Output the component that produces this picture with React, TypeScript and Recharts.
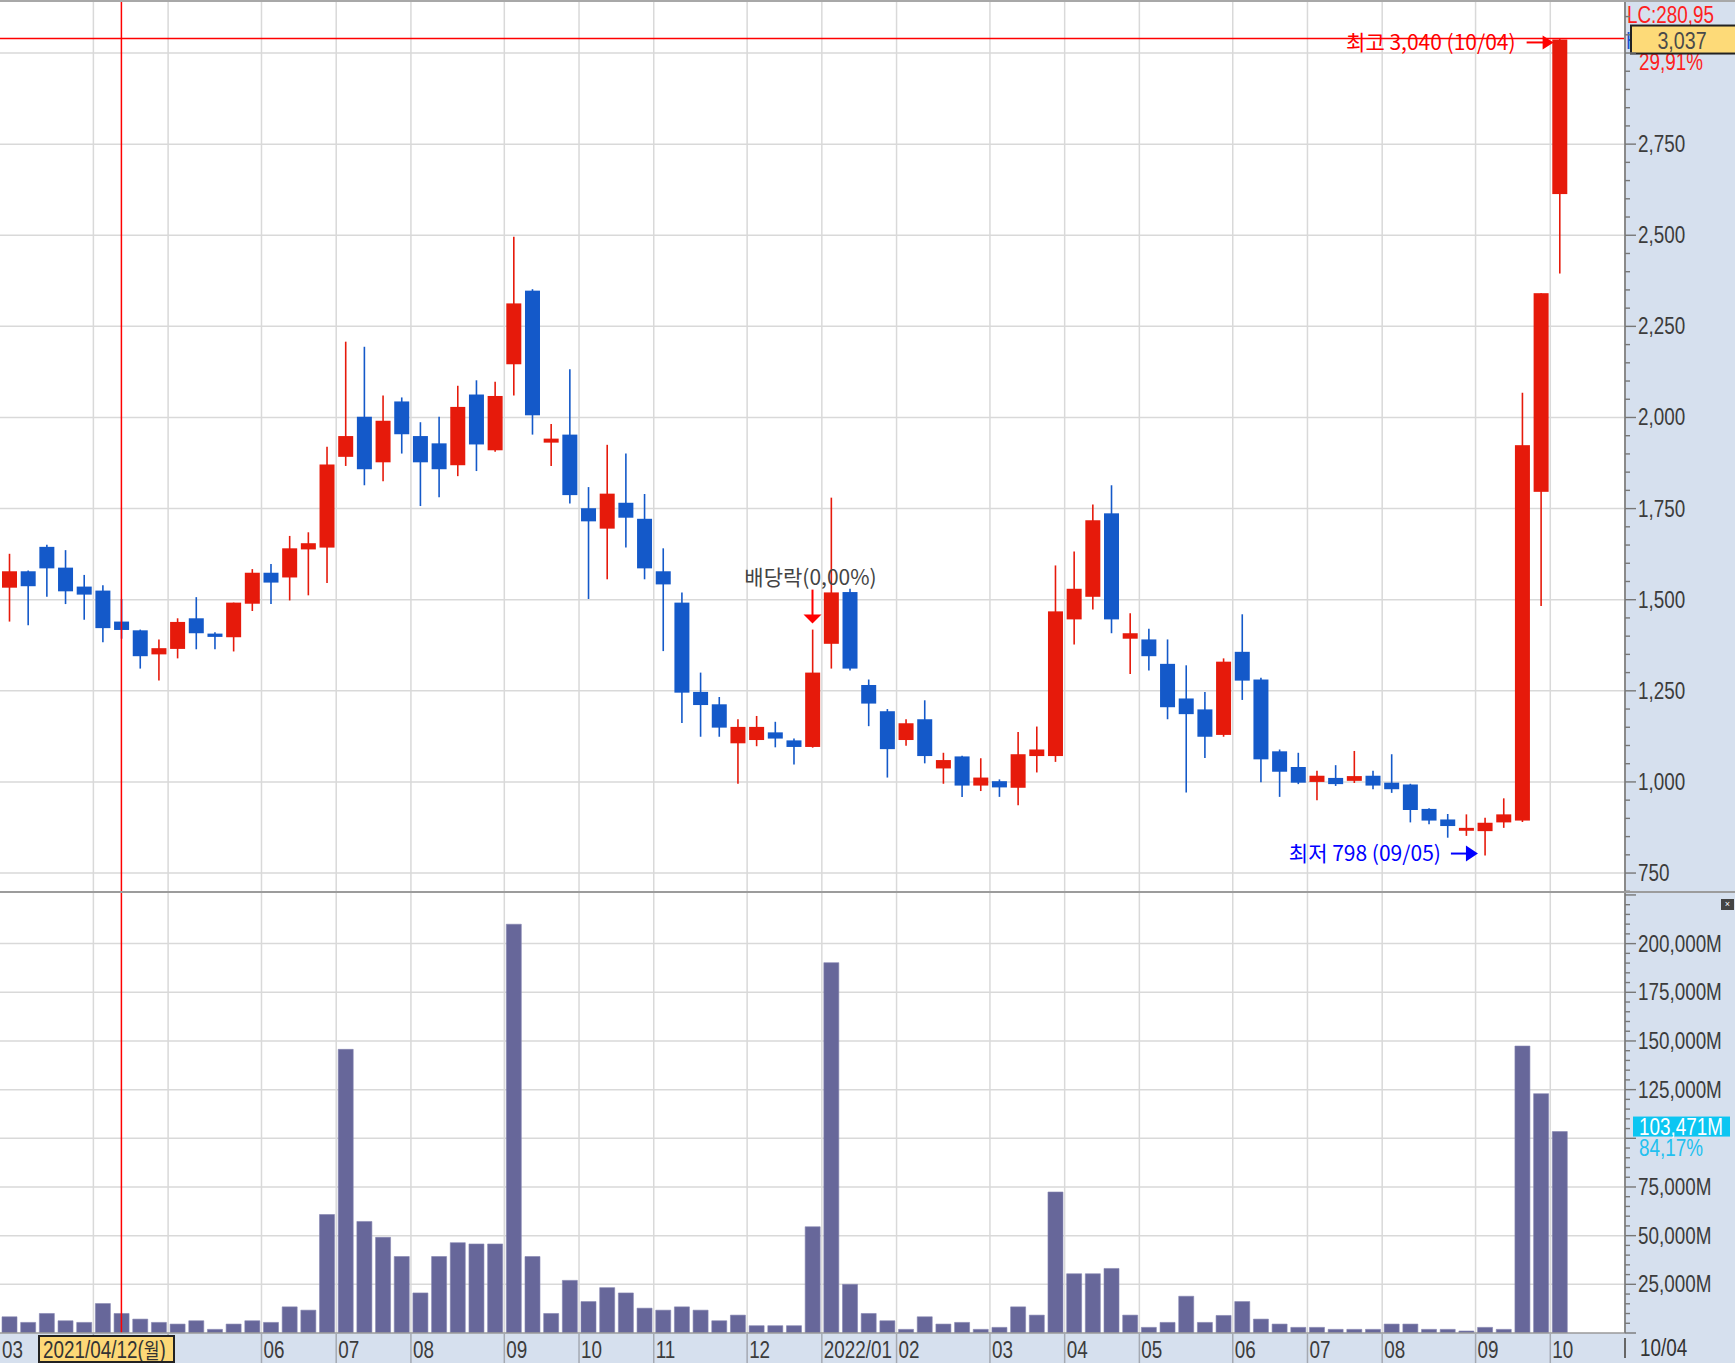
import React from 'react';
import { ComposedChart, Bar, XAxis, YAxis, CartesianGrid, ReferenceLine, ReferenceDot } from 'recharts';

// weekly candles, 2021/03 ~ 2022/10
const weeks = [
  '2021/03/01', '2021/03/08', '2021/03/15', '2021/03/22', '2021/03/29', '2021/04/05', '2021/04/12', '2021/04/19', '2021/04/26',
  '2021/05/03', '2021/05/10', '2021/05/17', '2021/05/24', '2021/05/31', '2021/06/07', '2021/06/14', '2021/06/21', '2021/06/28',
  '2021/07/05', '2021/07/12', '2021/07/19', '2021/07/26', '2021/08/02', '2021/08/09', '2021/08/16', '2021/08/23', '2021/08/30',
  '2021/09/06', '2021/09/13', '2021/09/20', '2021/09/27', '2021/10/04', '2021/10/11', '2021/10/18', '2021/10/25', '2021/11/01',
  '2021/11/08', '2021/11/15', '2021/11/22', '2021/11/29', '2021/12/06', '2021/12/13', '2021/12/20', '2021/12/27', '2022/01/03',
  '2022/01/10', '2022/01/17', '2022/01/24', '2022/01/31', '2022/02/07', '2022/02/14', '2022/02/21', '2022/02/28', '2022/03/07',
  '2022/03/14', '2022/03/21', '2022/03/28', '2022/04/04', '2022/04/11', '2022/04/18', '2022/04/25', '2022/05/02', '2022/05/09',
  '2022/05/16', '2022/05/23', '2022/05/30', '2022/06/06', '2022/06/13', '2022/06/20', '2022/06/27', '2022/07/04', '2022/07/11',
  '2022/07/18', '2022/07/25', '2022/08/01', '2022/08/08', '2022/08/15', '2022/08/22', '2022/08/29', '2022/09/05', '2022/09/12',
  '2022/09/19', '2022/09/26', '2022/10/03',
];

const opens = [
  1533, 1578, 1645, 1588, 1536, 1525, 1440, 1416, 1350, 1365, 1449, 1407, 1397, 1489, 1574, 1561, 1638, 1643, 1892, 2002, 1877,
  2044, 1949, 1929, 1869, 2063, 1910, 2146, 2348, 1931, 1953, 1751, 1695, 1766, 1722, 1578, 1492, 1247, 1213, 1106, 1115, 1136,
  1114, 1096, 1379, 1521, 1266, 1194, 1115, 1172, 1037, 1070, 990, 1002, 984, 1071, 1071, 1446, 1508, 1737, 1393, 1391, 1324,
  1229, 1199, 1129, 1357, 1281, 1084, 1041, 1000, 1011, 1003, 1017, 998, 993, 926, 897, 866, 865, 889, 894, 1796, 2613,
];
const highs = [
  1626, 1580, 1651, 1636, 1568, 1540, 1502, 1418, 1391, 1449, 1507, 1411, 1492, 1584, 1598, 1675, 1685, 1920, 2208, 2194, 2060,
  2055, 1987, 2002, 2087, 2102, 2098, 2496, 2352, 1982, 2132, 1809, 1925, 1901, 1790, 1641, 1520, 1300, 1233, 1172, 1181, 1165,
  1119, 1418, 1780, 1530, 1281, 1200, 1172, 1224, 1080, 1072, 1065, 1007, 1137, 1152, 1594, 1632, 1761, 1814, 1463, 1420, 1391,
  1320, 1247, 1339, 1460, 1286, 1089, 1080, 1031, 1046, 1085, 1031, 1076, 995, 928, 912, 911, 902, 955, 2068, 2341, 3040,
];
const lows = [
  1440, 1430, 1508, 1488, 1445, 1383, 1393, 1311, 1278, 1339, 1364, 1364, 1358, 1469, 1488, 1498, 1512, 1546, 1867, 1814, 1825,
  1901, 1757, 1781, 1839, 1853, 1906, 2060, 1953, 1867, 1764, 1502, 1556, 1643, 1556, 1359, 1162, 1124, 1124, 995, 1098, 1095,
  1048, 1094, 1311, 1306, 1153, 1012, 1099, 1051, 995, 959, 975, 959, 936, 1026, 1055, 1377, 1473, 1408, 1296, 1306, 1172,
  971, 1066, 1124, 1225, 999, 959, 994, 950, 989, 997, 980, 970, 889, 884, 847, 852, 798, 874, 890, 1483, 2395,
];
const closes = [
  1578, 1537, 1586, 1523, 1514, 1422, 1417, 1345, 1367, 1439, 1408, 1398, 1492, 1574, 1547, 1641, 1655, 1871, 1949, 1858, 1991,
  1954, 1877, 1858, 2029, 1926, 2059, 2313, 2006, 1942, 1787, 1715, 1791, 1725, 1586, 1542, 1245, 1211, 1149, 1151, 1151, 1119,
  1096, 1300, 1520, 1311, 1215, 1090, 1161, 1071, 1060, 990, 1012, 985, 1076, 1089, 1468, 1530, 1718, 1446, 1408, 1345, 1205,
  1186, 1124, 1330, 1278, 1062, 1028, 998, 1017, 994, 1016, 990, 980, 923, 894, 879, 874, 888, 911, 1924, 2341, 3037,
];
// 거래대금 (백만원)
const volumes = [
  8330, 5440, 10030, 6290, 5440, 15130, 10030, 7140, 5440, 4590, 6290, 1870, 4590, 6290, 5440, 13430, 11730, 60860, 145690,
  57290, 49130, 39270, 20570, 39270, 46410, 45730, 45730, 209950, 39270, 10030, 27030, 16150, 23290, 20570, 12750, 11730, 13430,
  11730, 6290, 9180, 3740, 3740, 3740, 54570, 190230, 24990, 10030, 6290, 1870, 8330, 4590, 5440, 1870, 2890, 13430, 9180, 72420,
  30430, 30430, 33150, 9180, 2890, 5440, 18870, 5440, 9010, 16150, 7140, 4590, 2890, 2890, 1870, 1870, 1870, 4590, 4590, 1870,
  1870, 1020, 2890, 1870, 147390, 122932, 103471,
];

// first week of each month on the time axis
const monthStarts = [0, 5, 9, 14, 18, 22, 27, 31, 35, 40, 44, 48, 53, 57, 61, 66, 70, 74, 79, 83];
const monthLabels = ['03', '04', '05', '06', '07', '08', '09', '10', '11', '12', '2022/01', '02', '03', '04', '05', '06', '07', '08', '09', '10'];
// labels hidden under the crosshair date tag
const coveredMonths = [5, 9];

const priceGrid = [750, 1000, 1250, 1500, 1750, 2000, 2250, 2500, 2750, 3000];
const priceLabels = [750, 1000, 1250, 1500, 1750, 2000, 2250, 2500, 2750];
const priceTicks = Array.from({ length: 49 }, (_, k) => 700 + k * 50);
const volumeGrid = [25000, 50000, 75000, 100000, 125000, 150000, 175000, 200000];
const volumeLabels = [25000, 50000, 75000, 125000, 150000, 175000, 200000];
const volumeTicks = Array.from({ length: 46 }, (_, k) => k * 5000);

const CROSS_IDX = 6;
const HIGH_IDX = 83;
const LOW_IDX = 79;
const EX_DIV_IDX = 43;

const priceData = weeks.map((date, i) => ({ idx: i, date, open: opens[i], high: highs[i], low: lows[i], close: closes[i] }));
const volumeData = weeks.map((date, i) => ({ idx: i, date, volume: volumes[i] }));

const RED = '#e61a0b';
const BLUE = '#1459c9';
const VOL = '#67679a';
const GRID = '#d9d9d9';
const PANEL = '#d6e0ee';
const AXIS_FONT = '"Liberation Sans", Arial, sans-serif';
const KR_FONT = '"Noto Sans CJK KR", "Noto Sans", sans-serif';
const X_DOMAIN: [number, number] = [-0.5, 86.5];

// narrow glyphs, like the terminal's bitmap font
const Narrow = ({ x, y, size = 23, fill = '#3c3c3c', anchor = 'start', children }: any) => (
  <text
    transform={`translate(${x},${y}) scale(0.82,1)`}
    fontSize={size}
    fill={fill}
    fontFamily={AXIS_FONT}
    textAnchor={anchor}
  >
    {children}
  </text>
);

const Candle = (props: any) => {
  const { x, y, width, height, payload } = props;
  if (!payload || payload.high == null) return null;
  const { open, close, high, low } = payload;
  const color = close >= open ? RED : BLUE;
  const toY = (v: number) => y + ((high - v) / (high - low)) * height;
  const cx = x + width / 2;
  const top = toY(Math.max(open, close));
  const bot = toY(Math.min(open, close));
  return (
    <g>
      <line x1={cx} x2={cx} y1={y} y2={y + height} stroke={color} strokeWidth={1.6} />
      <rect x={x} y={top} width={width} height={Math.max(bot - top, 2)} fill={color} />
    </g>
  );
};

const PriceTick = (props: any) => {
  const { x, y, payload } = props;
  const v = payload.value;
  const major = v % 250 === 0;
  return (
    <g>
      <line x1={x} x2={x + (major ? 11 : 5)} y1={y} y2={y} stroke="#777" strokeWidth={1.4} />
      {priceLabels.includes(v) && <Narrow x={x + 13} y={y + 8}>{v.toLocaleString('en-US')}</Narrow>}
    </g>
  );
};

const VolumeTick = (props: any) => {
  const { x, y, payload } = props;
  const v = payload.value;
  const major = v % 25000 === 0;
  return (
    <g>
      <line x1={x} x2={x + (major ? 11 : 5)} y1={y} y2={y} stroke="#777" strokeWidth={1.4} />
      {volumeLabels.includes(v) && <Narrow x={x + 13} y={y + 8}>{v.toLocaleString('en-US') + 'M'}</Narrow>}
    </g>
  );
};

const MonthTick = (props: any) => {
  const { x, y, payload } = props;
  const start = Math.round(payload.value + 0.5);
  const k = monthStarts.indexOf(start);
  return (
    <g>
      {k > 0 && <line x1={x} x2={x} y1={y} y2={y + 30} stroke="#a4a9b2" strokeWidth={1.5} />}
      {!coveredMonths.includes(start) && <Narrow x={x + 2} y={y + 25}>{monthLabels[k]}</Narrow>}
    </g>
  );
};

const HighNote = (props: any) => {
  const vb = props.viewBox;
  const cx = vb.x + vb.width / 2;
  const cy = vb.y + vb.height / 2;
  return (
    <g>
      <text x={cx - 44} y={cy + 12} textAnchor="end" fontSize={21} fill="#ff0000" fontFamily={KR_FONT}>
        최고 3,040 (10/04)
      </text>
      <line x1={cx - 33} x2={cx - 16} y1={cy + 4} y2={cy + 4} stroke="#ff0000" strokeWidth={2} />
      <polygon points={`${cx - 17},${cy - 3} ${cx - 6},${cy + 4} ${cx - 17},${cy + 11}`} fill="#ff0000" />
    </g>
  );
};

const LowNote = (props: any) => {
  const vb = props.viewBox;
  const cx = vb.x + vb.width / 2;
  const cy = vb.y + vb.height / 2;
  return (
    <g>
      <text x={cx - 44} y={cy + 5} textAnchor="end" fontSize={21} fill="#0000ff" fontFamily={KR_FONT}>
        최저 798 (09/05)
      </text>
      <line x1={cx - 34} x2={cx - 18} y1={cy - 2} y2={cy - 2} stroke="#0000ff" strokeWidth={2} />
      <polygon points={`${cx - 19},${cy - 10} ${cx - 7},${cy - 2} ${cx - 19},${cy + 6}`} fill="#0000ff" />
    </g>
  );
};

const ExDivNote = (props: any) => {
  const vb = props.viewBox;
  const cx = vb.x + vb.width / 2;
  const cy = vb.y + vb.height / 2;
  return (
    <g>
      <text x={cx - 2} y={cy - 45} textAnchor="middle" fontSize={21} fill="#444" fontFamily={KR_FONT}>
        배당락(0,00%)
      </text>
      <line x1={cx} x2={cx} y1={cy - 40} y2={cy - 14} stroke="#ff0000" strokeWidth={2} />
      <polygon points={`${cx - 9},${cy - 15} ${cx + 9},${cy - 15} ${cx},${cy - 6}`} fill="#ff0000" />
    </g>
  );
};

const LastPriceTag = (props: any) => {
  const vb = props.viewBox;
  const ax = vb.x + vb.width;
  const vy = vb.y;
  return (
    <g>
      <Narrow x={ax + 2} y={vy - 17} size={23} fill="#ff2020">LC:280,95</Narrow>
      <Narrow x={ax + 14} y={vy + 30} size={23} fill="#ff2020">29,91%</Narrow>
      <Narrow x={ax + 1} y={vy + 9} size={23} fill="#1a4fd0">H</Narrow>
      <rect x={ax + 6} y={vy - 14} width={110} height={28} fill="#fdda78" stroke="#222" strokeWidth={2} />
      <Narrow x={ax + 57} y={vy + 9} size={24} fill="#4a4a4a" anchor="middle">3,037</Narrow>
    </g>
  );
};

const LastVolumeTag = (props: any) => {
  const vb = props.viewBox;
  const ax = vb.x + vb.width;
  const vy = vb.y;
  return (
    <g>
      <rect x={ax + 8} y={vy - 15} width={97} height={20} fill="#0cc6f2" />
      <Narrow x={ax + 56} y={vy + 3} size={23} fill="#ffffff" anchor="middle">103,471M</Narrow>
      <Narrow x={ax + 14} y={vy + 24} size={23} fill="#22c0f0">84,17%</Narrow>
    </g>
  );
};

const narrowSpan: React.CSSProperties = {
  display: 'inline-block',
  transform: 'scaleX(0.82)',
  transformOrigin: 'left center',
  whiteSpace: 'nowrap',
};

export default function App() {
  return (
    <div style={{ position: 'absolute', left: 0, top: 0, width: 1735, height: 1363, background: '#fff', overflow: 'hidden' }}>
      <div style={{ position: 'absolute', left: 1625, top: 0, width: 110, height: 1363, background: PANEL }} />
      <div style={{ position: 'absolute', left: 0, top: 1333, width: 1625, height: 30, background: PANEL }} />

      <div style={{ position: 'absolute', left: 0, top: 0 }}>
        <ComposedChart width={1735} height={893} data={priceData} margin={{ top: 2, right: 0, bottom: 1, left: 0 }}>
          <CartesianGrid
            stroke={GRID}
            strokeWidth={1.5}
            horizontalValues={priceGrid}
            verticalValues={monthStarts.slice(1).map((i) => i - 0.5)}
          />
          <XAxis dataKey="idx" type="number" domain={X_DOMAIN} hide allowDataOverflow />
          <YAxis
            orientation="right"
            width={110}
            domain={[698, 3140]}
            ticks={priceTicks}
            interval={0}
            tickSize={0}
            tickMargin={0}
            tick={<PriceTick />}
            axisLine={{ stroke: '#8a8a8a', strokeWidth: 2 }}
            tickLine={false}
            allowDataOverflow
          />
          <Bar dataKey={(d: any) => [d.low, d.high]} barSize={15} shape={<Candle />} isAnimationActive={false} />
          <ReferenceLine y={3040} stroke="#ff0000" strokeWidth={1.5} />
          <ReferenceLine x={CROSS_IDX} stroke="#ff0000" strokeWidth={1.5} />
          <ReferenceLine y={closes[HIGH_IDX]} stroke="none" label={<LastPriceTag />} />
          <ReferenceDot x={HIGH_IDX} y={highs[HIGH_IDX]} r={1} fill="none" stroke="none" label={<HighNote />} />
          <ReferenceDot x={LOW_IDX} y={lows[LOW_IDX]} r={1} fill="none" stroke="none" label={<LowNote />} />
          <ReferenceDot x={EX_DIV_IDX} y={highs[EX_DIV_IDX]} r={1} fill="none" stroke="none" label={<ExDivNote />} />
        </ComposedChart>
      </div>

      <div style={{ position: 'absolute', left: 0, top: 893 }}>
        <ComposedChart width={1735} height={470} data={volumeData} margin={{ top: 0, right: 0, bottom: 0, left: 0 }}>
          <CartesianGrid
            stroke={GRID}
            strokeWidth={1.5}
            horizontalValues={volumeGrid}
            verticalValues={monthStarts.slice(1).map((i) => i - 0.5)}
          />
          <XAxis
            dataKey="idx"
            type="number"
            domain={X_DOMAIN}
            ticks={monthStarts.map((i) => i - 0.5)}
            interval={0}
            height={30}
            tickSize={0}
            tickMargin={0}
            tick={<MonthTick />}
            tickLine={false}
            axisLine={{ stroke: '#9a9a9a', strokeWidth: 1.5 }}
            allowDataOverflow
          />
          <YAxis
            orientation="right"
            width={110}
            domain={[0, 226000]}
            ticks={volumeTicks}
            interval={0}
            tickSize={0}
            tickMargin={0}
            tick={<VolumeTick />}
            axisLine={{ stroke: '#8a8a8a', strokeWidth: 2 }}
            tickLine={false}
            allowDataOverflow
          />
          <Bar dataKey="volume" barSize={15} fill={VOL} stroke="#8484b0" strokeWidth={0.6} isAnimationActive={false} />
          <ReferenceLine x={CROSS_IDX} stroke="#ff0000" strokeWidth={1.5} />
          <ReferenceLine y={volumes[HIGH_IDX]} stroke="none" label={<LastVolumeTag />} />
        </ComposedChart>
      </div>

      {/* panel borders */}
      <div style={{ position: 'absolute', left: 0, top: 0, width: 1735, height: 2, background: '#a8a8a8' }} />
      <div style={{ position: 'absolute', left: 0, top: 891, width: 1735, height: 2, background: '#9c9c9c' }} />
      <div style={{ position: 'absolute', left: 1624, top: 1338, width: 2, height: 20, background: '#666' }} />

      {/* crosshair date tag */}
      <div
        style={{
          position: 'absolute', left: 38, top: 1335, width: 130, height: 24, background: '#fdd877', border: '2px solid #222',
          font: `23px ${AXIS_FONT}`, color: '#333', lineHeight: '24px', overflow: 'hidden', paddingLeft: 3, boxSizing: 'content-box',
        }}
      >
        <span style={narrowSpan}>
          2021/04/12(<span style={{ fontFamily: KR_FONT, fontSize: 21 }}>월</span>)
        </span>
      </div>
      <div style={{ position: 'absolute', left: 1640, top: 1335, font: `23px ${AXIS_FONT}`, color: '#333', lineHeight: '26px' }}>
        <span style={narrowSpan}>10/04</span>
      </div>
      <div
        style={{
          position: 'absolute', left: 1721, top: 899, width: 13, height: 11, background: '#444', color: '#fff',
          fontSize: 9, lineHeight: '11px', textAlign: 'center', fontFamily: 'sans-serif',
        }}
      >
        ×
      </div>
    </div>
  );
}
